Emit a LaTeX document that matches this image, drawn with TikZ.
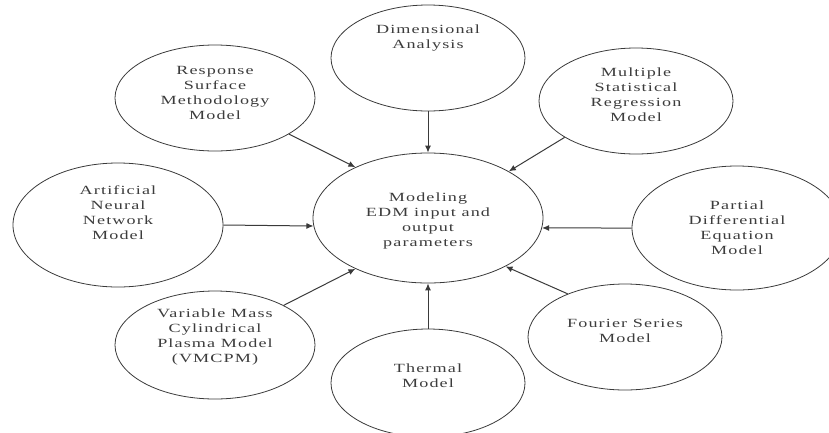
\documentclass[tikz,border=0pt]{standalone}
\usepackage{fontspec}
\setmainfont{Liberation Serif}[FakeStretch=1.45, LetterSpace=9]
\usepackage{xcolor}
\usepackage{tikz}
\usetikzlibrary{shapes.geometric, arrows.meta}

\definecolor{linegray}{HTML}{3A3A3A}
\definecolor{textgray}{HTML}{3C3C3C}

\begin{document}
\begin{tikzpicture}[
    x=1pt, y=-1pt,
    bubble/.style={draw=linegray, line width=0.8pt, ellipse, inner sep=0pt},
    txt/.style={align=center, text=textgray, font=\fontsize{12.5}{15}\selectfont},
    arrow/.style={-{Latex[length=7pt, width=6pt]}, draw=linegray, line width=1pt}
  ]
    \useasboundingbox (0,0) rectangle (829,432);

    \node[bubble, minimum width=230pt, minimum height=130pt,
      label={[txt, yshift=-3pt]center:Modeling\\EDM input and\\output\\parameters}] (ctr) at (428,218) {};
    \node[bubble, minimum width=194pt, minimum height=106pt,
      label={[txt, yshift=20pt]center:Dimensional\\Analysis}] (da) at (428,58) {};
    \node[bubble, minimum width=200pt, minimum height=106pt,
      label={[txt, yshift=5pt]center:Response\\Surface\\Methodology\\Model}] (rsm) at (215,98) {};
    \node[bubble, minimum width=194pt, minimum height=106pt,
      label={[txt, yshift=6pt]center:Multiple\\Statistical\\Regression\\Model}] (msr) at (636,101) {};
    \node[bubble, minimum width=210pt, minimum height=124pt,
      label={[txt, yshift=12pt]center:Artificial\\Neural\\Network\\Model}] (ann) at (118,225) {};
    \node[bubble, minimum width=210pt, minimum height=124pt,
      label={[txt]center:Partial\\Differential\\Equation\\Model}] (pde) at (737,228) {};
    \node[bubble, minimum width=200pt, minimum height=108pt,
      label={[txt, yshift=8pt]center:Variable Mass\\Cylindrical\\Plasma Model\\(VMCPM)}] (vm) at (215,345) {};
    \node[bubble, minimum width=194pt, minimum height=108pt,
      label={[txt, yshift=7pt]center:Thermal\\Model}] (thm) at (428,383) {};
    \node[bubble, minimum width=194pt, minimum height=106pt,
      label={[txt, yshift=6pt]center:Fourier Series\\Model}] (fsm) at (625,337) {};

    \draw[arrow] (da.south) -- (ctr.north);
    \draw[arrow] (rsm.-26) -- (ctr.145);
    \draw[arrow] (msr.-153) -- (ctr.30);
    \draw[arrow] (ann.east) -- (ctr.184);
    \draw[arrow] (pde.west) -- (ctr.-5);
    \draw[arrow] (vm.30) -- (ctr.215);
    \draw[arrow] (fsm.143) -- (ctr.-32);
    \draw[arrow] (thm.north) -- (ctr.south);
  \end{tikzpicture}
\end{document}
